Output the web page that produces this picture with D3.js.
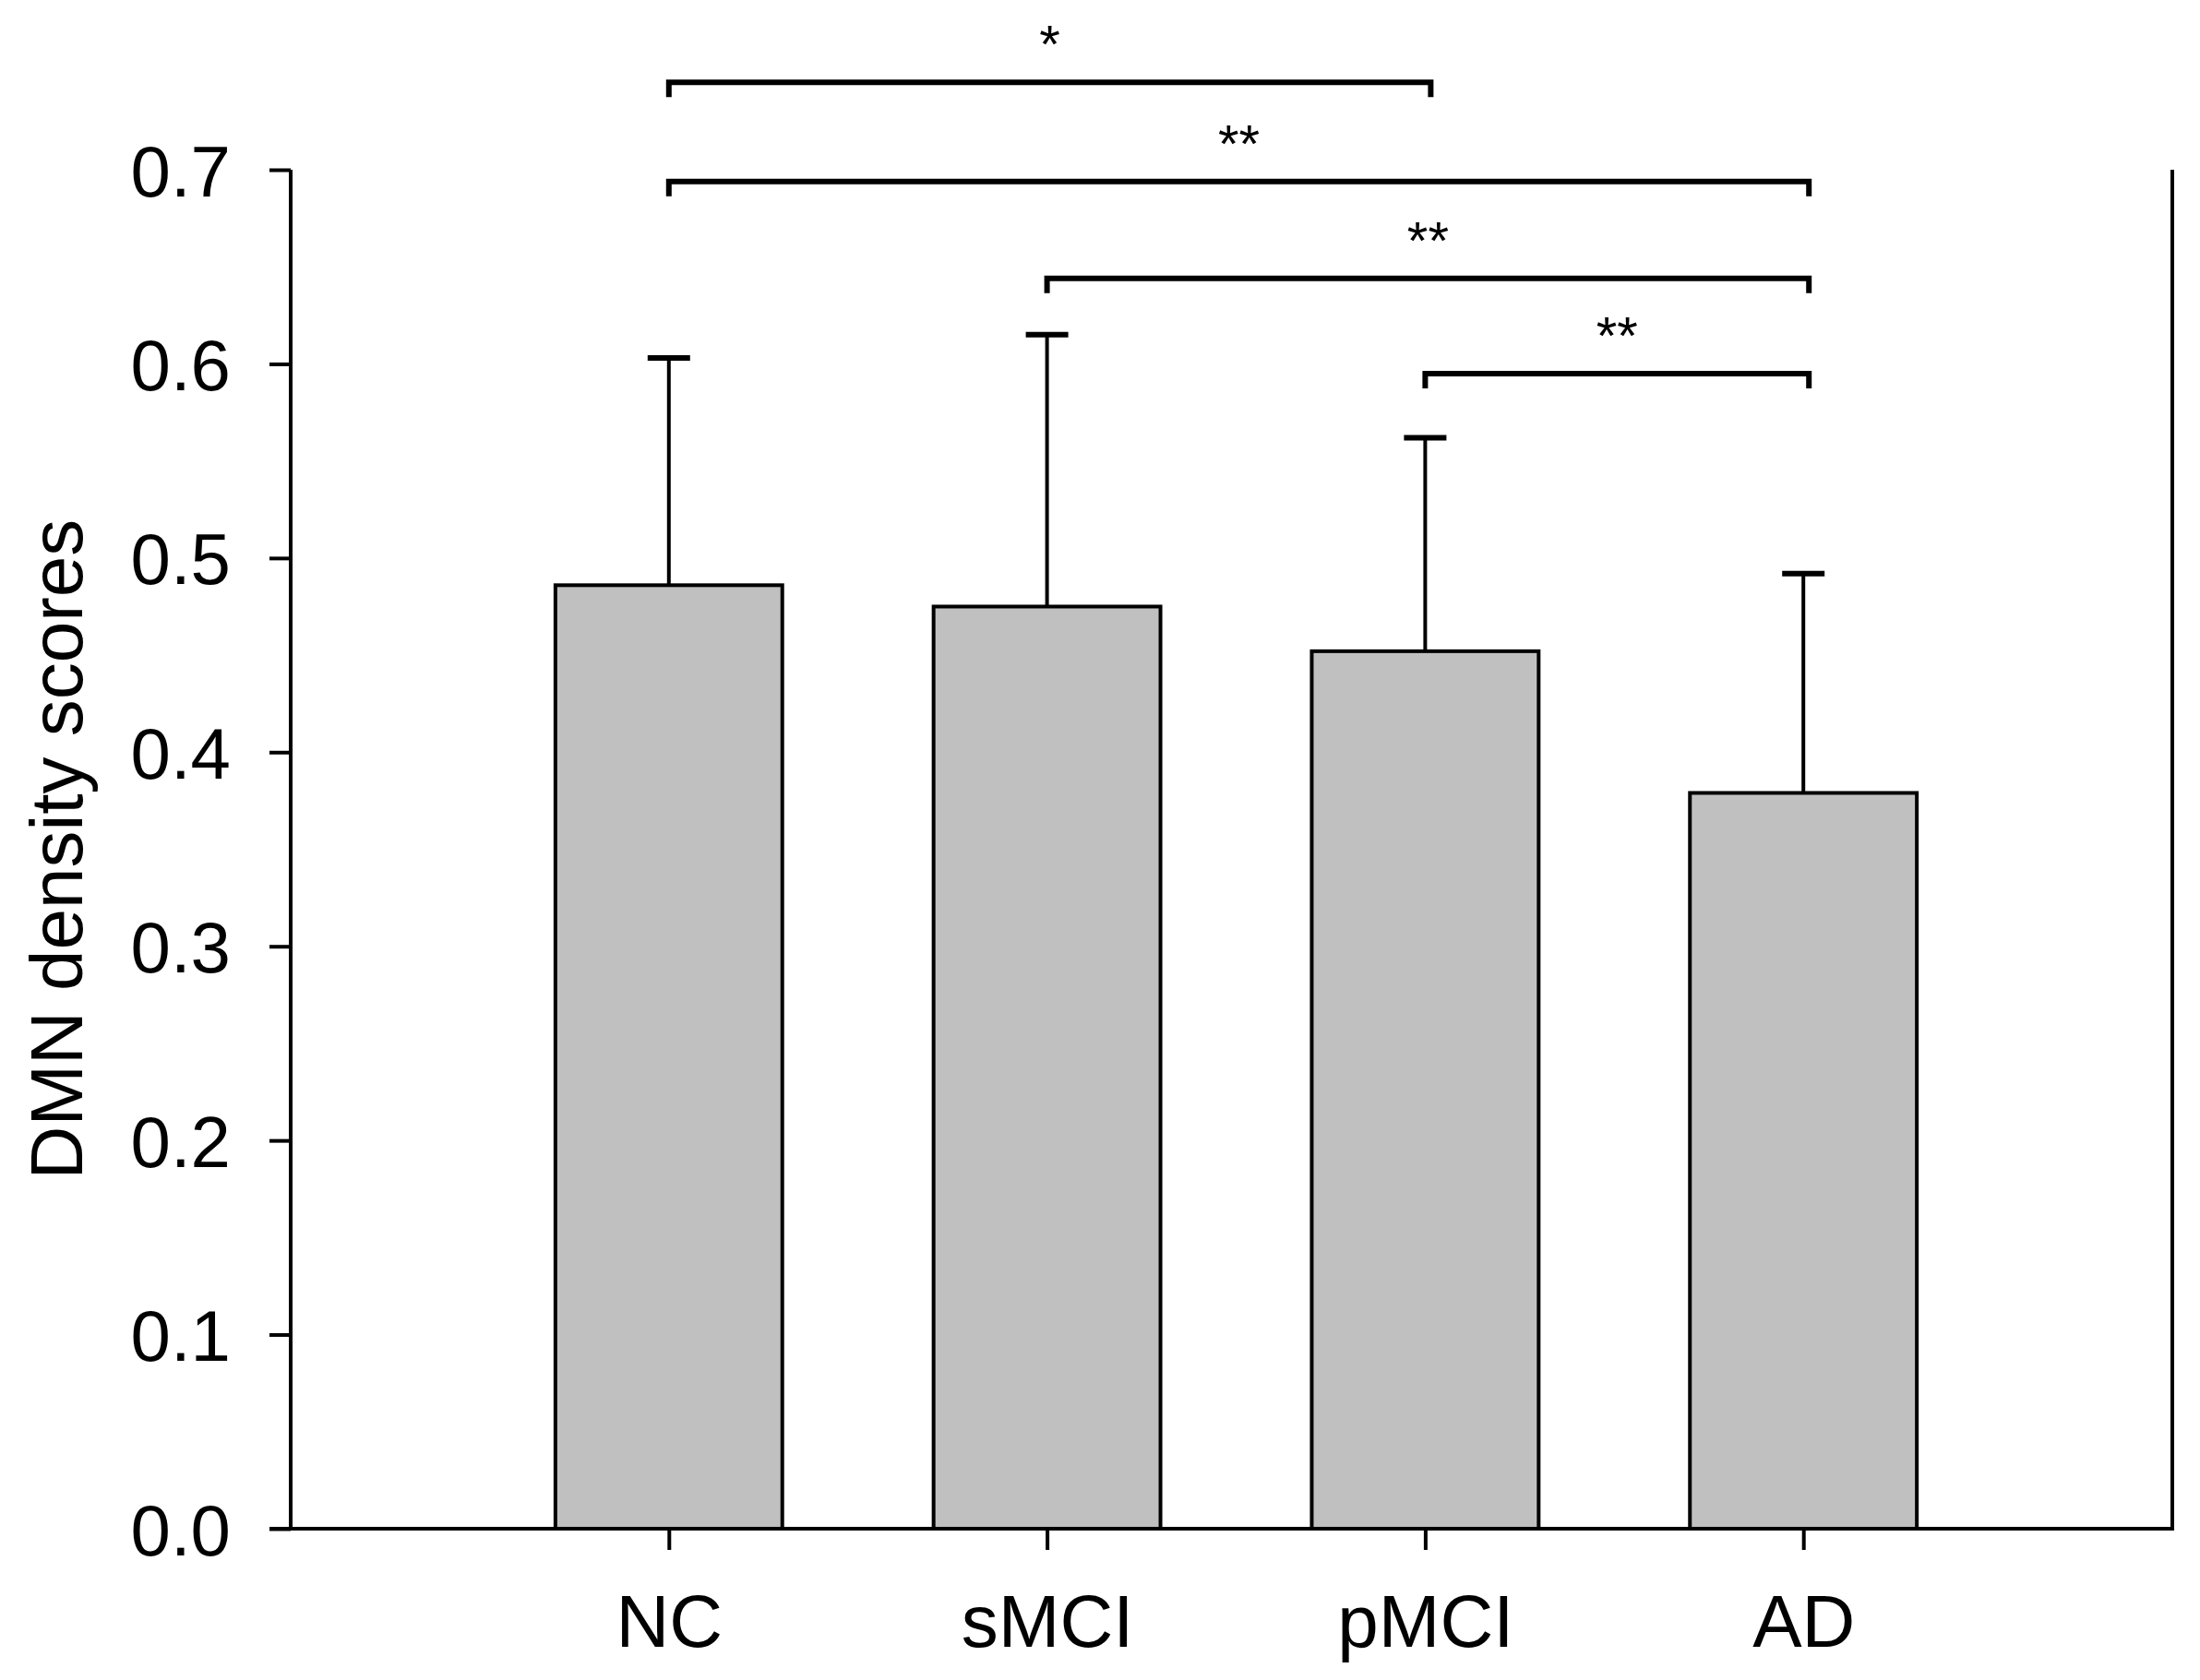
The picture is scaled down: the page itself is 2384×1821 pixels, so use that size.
<!DOCTYPE html>
<html>
<head>
<meta charset="utf-8">
<script src="https://cdn.jsdelivr.net/npm/d3@7"></script>
<style>
    html, body { margin: 0; padding: 0; background: #fff; }
    svg text { font-family: "Liberation Sans", Arial, sans-serif; fill: #000; }
</style>
</head>
<body>
<script>
(function () {
    "use strict";

    // data
    var groups = ["NC", "sMCI", "pMCI", "AD"];
    var means = [0.486, 0.475, 0.452, 0.379];
    var sds = [0.117, 0.140, 0.110, 0.113];
    var yTicks = [0.0, 0.1, 0.2, 0.3, 0.4, 0.5, 0.6, 0.7];

    // significance brackets: from, to, level (in data units), label
    var bracketFrom = ["NC", "NC", "sMCI", "pMCI"];
    var bracketTo = ["pMCI", "AD", "AD", "AD"];
    var bracketLevel = [0.745, 0.694, 0.644, 0.595];
    var bracketLabel = ["*", "**", "**", "**"];

    var width = 2384, height = 1821;
    var margin = {top: 184, right: 30, bottom: 164, left: 315};

    var svg = d3.select("body").append("svg")
        .attr("width", width)
        .attr("height", height);

    // points sit a little off-centre in the frame, as in the original
    var x = d3.scalePoint()
        .domain(groups)
        .range([margin.left, width - margin.right + 10])
        .padding(1);

    var y = d3.scaleLinear()
        .domain([0, 0.7])
        .range([height - margin.bottom, margin.top]);

    var barWidth = x.step() * 0.6;
    var capWidth = 46;

    // bars
    svg.append("g").selectAll("rect")
        .data(groups)
        .enter().append("rect")
        .attr("x", function (d) { return x(d) - barWidth / 2; })
        .attr("y", function (d, i) { return y(means[i]); })
        .attr("width", barWidth)
        .attr("height", function (d, i) { return y(0) - y(means[i]); })
        .attr("fill", "#c0c0c0")
        .attr("stroke", "#000")
        .attr("stroke-width", 4);

    // error bars (upper only)
    var err = svg.append("g").attr("stroke", "#000");
    err.selectAll("line.stem")
        .data(groups)
        .enter().append("line")
        .attr("class", "stem")
        .attr("x1", function (d) { return x(d); })
        .attr("x2", function (d) { return x(d); })
        .attr("y1", function (d, i) { return y(means[i]); })
        .attr("y2", function (d, i) { return y(means[i] + sds[i]); })
        .attr("stroke-width", 4);
    err.selectAll("line.cap")
        .data(groups)
        .enter().append("line")
        .attr("class", "cap")
        .attr("x1", function (d) { return x(d) - capWidth / 2; })
        .attr("x2", function (d) { return x(d) + capWidth / 2; })
        .attr("y1", function (d, i) { return y(means[i] + sds[i]); })
        .attr("y2", function (d, i) { return y(means[i] + sds[i]); })
        .attr("stroke-width", 6);

    // y axis
    var yAxis = svg.append("g")
        .attr("transform", "translate(" + margin.left + ",0)")
        .call(d3.axisLeft(y)
            .tickValues(yTicks)
            .tickSize(23)
            .tickPadding(42)
            .tickFormat(d3.format(".1f")));
    yAxis.select(".domain").remove();
    yAxis.append("line")
        .attr("x1", 0).attr("x2", 0)
        .attr("y1", y(0.7)).attr("y2", y(0) + 2)
        .attr("stroke", "#000").attr("stroke-width", 4);
    yAxis.selectAll(".tick line").attr("stroke-width", 4);
    yAxis.selectAll(".tick text")
        .attr("font-size", 78)
        .attr("dy", "0.36em");

    // x axis
    var xAxis = svg.append("g")
        .attr("transform", "translate(0," + y(0) + ")")
        .call(d3.axisBottom(x).tickSize(23).tickPadding(48));
    xAxis.select(".domain").remove();
    xAxis.append("line")
        .attr("x1", margin.left - 23).attr("x2", width - margin.right + 2)
        .attr("y1", 0).attr("y2", 0)
        .attr("stroke", "#000").attr("stroke-width", 4);
    xAxis.selectAll(".tick line").attr("stroke-width", 4);
    xAxis.selectAll(".tick text")
        .attr("font-size", 80)
        .attr("dy", "0.71em");

    // right frame line
    svg.append("line")
        .attr("x1", width - margin.right).attr("x2", width - margin.right)
        .attr("y1", y(0.7)).attr("y2", y(0))
        .attr("stroke", "#000").attr("stroke-width", 4);

    // y label
    svg.append("text")
        .attr("transform", "translate(60," + y(0.35) + ") rotate(-90)")
        .attr("text-anchor", "middle")
        .attr("dy", "0.36em")
        .attr("font-size", 80)
        .text("DMN density scores");

    // significance brackets
    var bracketDrop = 16;
    var br = svg.append("g");
    bracketLabel.forEach(function (lab, i) {
        var x0 = x(bracketFrom[i]), x1 = x(bracketTo[i]) + 6, by = y(bracketLevel[i]);
        br.append("path")
            .attr("d", "M" + x0 + "," + (by + bracketDrop) + "V" + by + "H" + x1 + "V" + (by + bracketDrop))
            .attr("fill", "none")
            .attr("stroke", "#000")
            .attr("stroke-width", 6);
        br.append("text")
            .attr("x", (x0 + x1) / 2)
            .attr("y", by - 21)
            .attr("text-anchor", "middle")
            .attr("font-size", 58)
            .text(lab);
    });
})();
</script>
</body>
</html>
